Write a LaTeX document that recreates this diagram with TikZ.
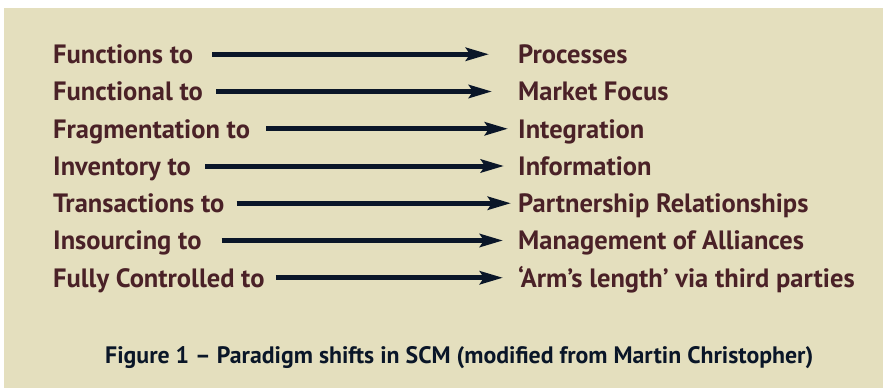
\documentclass[tikz,border=0pt]{standalone}
\usepackage{fontspec}
\setmainfont{PT Sans}
\usetikzlibrary{arrows.meta}
\definecolor{bg}{HTML}{E4DFBE}
\definecolor{txt}{HTML}{4A2127}
\definecolor{navy}{HTML}{0A1628}
\begin{document}
\begin{tikzpicture}[x=1pt,y=-1pt,
  lab/.style={anchor=base west, inner sep=0pt, text=txt,
    font=\bfseries\fontsize{26.5}{30}\selectfont, text height=18.5pt, text depth=0pt},
  captiontext/.style={anchor=base west, inner sep=0pt, text=navy,
    font=\bfseries\fontsize{23.8}{27}\selectfont},
  arr/.style={draw=navy, line width=5pt,
    -{Stealth[length=23pt, width=13pt, inset=4pt, fill=navy]}}]
\useasboundingbox (0,0) rectangle (883,388);
\fill[bg] (4,8) rectangle (883,388);
\node[lab] (l1) at (53,63.5) {Functions to};
\node[lab] (l2) at (53,100.75) {Functional to};
\node[lab] (l3) at (53,138) {Fragmentation to};
\node[lab] (l4) at (53,175.25) {Inventory to};
\node[lab] (l5) at (53,212.5) {Transactions to};
\node[lab] (l6) at (53,249.75) {Insourcing to};
\node[lab] (l7) at (53,287) {Fully Controlled to};
\node[lab] (r1) at (518,63.5) {Processes};
\node[lab] (r2) at (518,100.75) {Market Focus};
\node[lab] (r3) at (518,138) {Integration};
\node[lab] (r4) at (518,175.25) {Information};
\node[lab] (r5) at (518,212.5) {Partnership Relationships};
\node[lab] (r6) at (518,249.75) {Management of Alliances};
\node[lab] (r7) at (518,287) {‘Arm’s length’ via third parties};
\draw[arr] ([xshift=19pt]l1.east) -- ([xshift=-29pt]r1.west);
\draw[arr] ([xshift=13pt]l2.east) -- ([xshift=-26pt]r2.west);
\draw[arr] ([xshift=16pt]l3.east) -- ([xshift=-10pt]r3.west);
\draw[arr] ([xshift=14pt]l4.east) -- ([xshift=-14pt]r4.west);
\draw[arr] ([xshift=12pt]l5.east) -- ([xshift=-7pt]r5.west);
\draw[arr] ([xshift=20pt]l6.east) -- ([xshift=-15pt]r6.west);
\draw[arr] ([xshift=11pt]l7.east) -- ([xshift=-15pt]r7.west);
\node[captiontext] (c) at (105,363.5) {Figure 1 – Paradigm shifts in SCM (modified from Martin Christopher)};
\end{tikzpicture}
\end{document}
